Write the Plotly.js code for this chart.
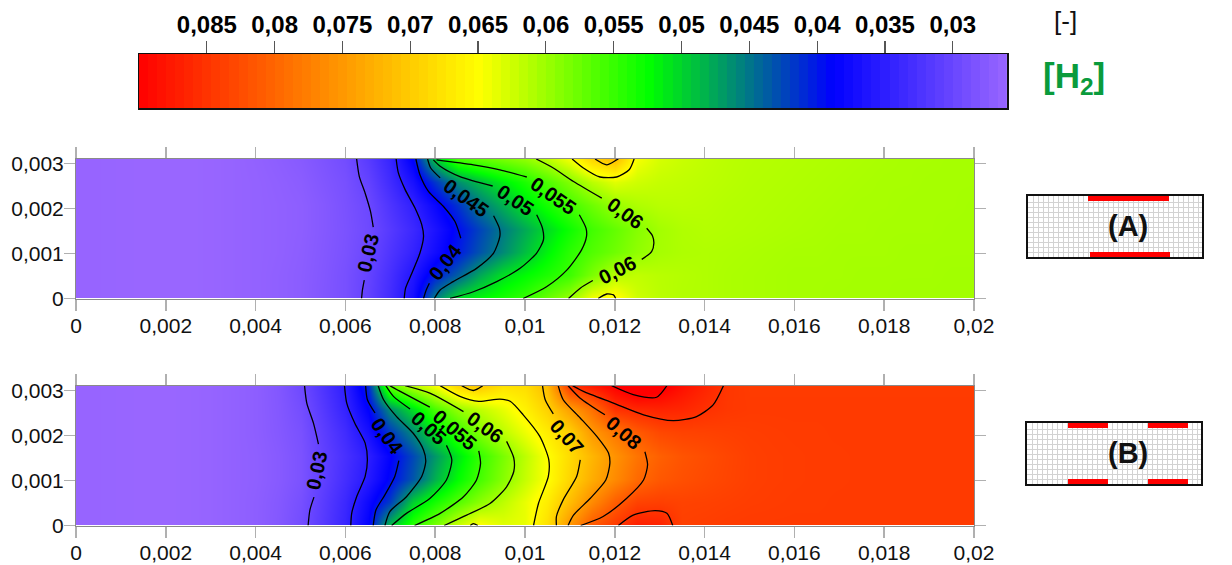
<!DOCTYPE html>
<html><head><meta charset="utf-8">
<script src="https://cdn.plot.ly/plotly-3.0.1.min.js"></script>
<style>html,body{margin:0;padding:0;background:#fff}</style>
</head><body><div id="chart" style="width:1232px;height:565px"></div>
<script>
// x positions of the field columns (m)
var xField = [0,0.0005,0.001,0.0015,0.002,0.0025,0.003,0.0035,0.004,0.0045,0.005,0.0055,0.006,0.0065,0.007,0.0075,0.008,0.0085,0.009,0.0095,0.01,0.0105,0.011,0.0115,0.012,0.0125,0.013,0.0135,0.014,0.0145,0.015,0.0155,0.016,0.0165,0.017,0.0175,0.018,0.0185,0.019,0.0195,0.02];
var yField = [0,0.000517,0.001033,0.00155,0.002067,0.002583,0.0031];

// Panel A field, one row per height
var a0 = [.0262,.0262,.0261,.026,.026,.026,.0261,.0263,.0265,.0268,.0272,.028,.0288,.0306,.0333,.0371,.0456,.0506,.0521,.0535,.055,.0575,.06,.0645,.0658,.0625,.0615,.0611,.061,.0608,.0607,.0606,.0605,.0605,.0604,.0604,.0604,.0603,.0603,.0603,.0603];
var a1 = [.0262,.0262,.0261,.026,.026,.026,.0261,.0263,.0265,.0268,.0272,.0279,.0288,.0304,.0329,.0361,.0404,.0438,.0477,.0506,.0522,.0537,.0553,.0584,.0613,.0618,.0614,.0612,.061,.0608,.0607,.0606,.0605,.0605,.0605,.0604,.0604,.0604,.0604,.0603,.0603];
var a2 = [.0262,.0262,.0261,.026,.026,.026,.0261,.0263,.0265,.0267,.0271,.0278,.0286,.0299,.0322,.0345,.0373,.0402,.0432,.0461,.0489,.0517,.0544,.0563,.0578,.0594,.0605,.0609,.061,.0609,.0608,.0607,.0606,.0606,.0605,.0605,.0605,.0604,.0604,.0604,.0604];
var a3 = [.0262,.0262,.0261,.026,.026,.026,.0261,.0263,.0265,.0267,.027,.0277,.0285,.0296,.0316,.0338,.0365,.0395,.0424,.0453,.0478,.0504,.053,.0555,.0572,.0589,.0604,.061,.0612,.0611,.061,.0609,.0608,.0607,.0606,.0606,.0605,.0605,.0605,.0604,.0604];
var a4 = [.0262,.0262,.0261,.026,.026,.026,.0261,.0263,.0265,.0267,.027,.0277,.0286,.0298,.0323,.0348,.038,.0415,.0453,.0481,.0508,.0533,.0556,.0577,.0598,.0609,.0614,.0615,.0614,.0612,.0611,.061,.0609,.0608,.0607,.0606,.0606,.0605,.0605,.0605,.0604];
var a5 = [.0262,.0262,.0261,.026,.026,.026,.0261,.0263,.0265,.0268,.0272,.028,.0288,.0305,.0334,.0368,.0416,.0463,.0489,.0514,.0536,.0561,.0587,.0615,.0634,.0625,.062,.0618,.0616,.0614,.0612,.0611,.061,.0609,.0608,.0607,.0606,.0606,.0605,.0605,.0605];
var a6 = [.0262,.0262,.0261,.026,.026,.026,.0261,.0263,.0266,.027,.0275,.0283,.0292,.0314,.0342,.0391,.0495,.0558,.057,.0582,.0594,.0615,.0644,.069,.0715,.0645,.0628,.0622,.0618,.0615,.0613,.0612,.0611,.061,.0609,.0608,.0607,.0606,.0606,.0605,.0605];

// Panel B field, one row per height
var b0 = [.0262,.0262,.0261,.026,.026,.0261,.0263,.0266,.027,.0278,.0292,.0316,.0342,.0387,.049,.0546,.0584,.0625,.0652,.0635,.0638,.068,.0755,.0815,.0845,.0872,.0868,.0838,.084,.0842,.0843,.0843,.0843,.0843,.0843,.0843,.0843,.0843,.0843,.0843,.0843];
var b1 = [.0262,.0262,.0261,.026,.026,.0261,.0263,.0266,.027,.0277,.0289,.0313,.0338,.0377,.042,.0498,.0533,.0564,.0592,.0616,.0638,.0667,.0715,.0764,.0808,.0835,.0838,.0835,.0836,.0838,.084,.0841,.0842,.0842,.0843,.0843,.0843,.0843,.0843,.0843,.0843];
var b2 = [.0262,.0262,.0261,.026,.026,.0261,.0263,.0266,.0269,.0275,.0285,.0308,.0331,.0357,.0393,.0433,.0481,.0523,.0557,.0589,.062,.0649,.0691,.073,.0764,.0796,.0814,.0822,.0828,.0833,.0838,.084,.0841,.0842,.0842,.0843,.0843,.0843,.0843,.0843,.0843];
var b3 = [.0262,.0262,.0261,.026,.026,.0261,.0263,.0266,.0269,.0275,.0285,.0307,.0328,.0351,.0386,.0426,.0468,.051,.0549,.0583,.0616,.0649,.0685,.0721,.0756,.0786,.0806,.0818,.0825,.0832,.0838,.084,.0841,.0842,.0842,.0843,.0843,.0843,.0843,.0843,.0843];
var b4 = [.0262,.0262,.0261,.026,.026,.0261,.0263,.0266,.027,.0277,.0287,.0311,.0334,.0369,.0418,.0461,.0512,.0551,.0587,.0616,.0641,.0668,.0696,.075,.0783,.0812,.083,.0835,.0836,.0838,.084,.0841,.0842,.0842,.0843,.0843,.0843,.0843,.0843,.0843,.0843];
var b5 = [.0262,.0262,.0261,.026,.026,.0261,.0263,.0266,.027,.0278,.0291,.0317,.0344,.0388,.0464,.0507,.0559,.0596,.0618,.0638,.0662,.0694,.0745,.0791,.0852,.0862,.0866,.0863,.0853,.0846,.0843,.0843,.0843,.0843,.0843,.0843,.0843,.0843,.0843,.0843,.0843];
var b6 = [.0262,.0262,.0261,.026,.026,.0261,.0263,.0266,.027,.0279,.0296,.0323,.035,.0408,.0572,.0611,.0643,.069,.0703,.0678,.0682,.0715,.0848,.0875,.09,.0925,.091,.0885,.0865,.0847,.0842,.0842,.0842,.0842,.0842,.0842,.0842,.0842,.0842,.0842,.0842];

// Panel A iso-lines (null = break at an inline label)
var A030x=[.00625,.00631,.00644,.00656,.00662,null,.00642,.00638,.00636];
var A030y=[.0031,.00271,.00234,.00193,.001585,null,.00041,.00019,0];
var A035x=[.00713,.00718,.00733,.00755,.0077,.00774,.00766,.00748,.00734,.00731];
var A035y=[.0031,.00279,.00242,.00201,.00164,.00138,.00101,.00056,.00023,0];
var A040x=[.00757,.00766,.00785,.00818,.00844,.00857,null,.00787,.0078,.00774];
var A040y=[.0031,.00275,.00238,.00205,.00171,.00134,null,.00034,.00019,0];
var A045x=[.00783,.0079,.00811,null,.0093,.00943,.00944,.0093,.00892,.0084,.00811,.00798];
var A045y=[.0031,.0029,.00268,null,.00184,.00156,.00138,.00101,.00067,.000375,.00019,0];
var A050x=[.00796,.00811,.00855,.00928,null,.01026,.01039,.01041,.01026,.00989,.00937,.00885,.00833];
var A050y=[.00308,.00294,.00271,.0025,null,.00186,.00156,.0013,.00101,.00067,.000375,.00015,0];
var A055x=[.00803,.00885,.00944,.01004,null,.01121,.01136,.01137,.01126,.01093,.01048,.00996];
var A055y=[.00308,.00297,.00286,.0027,null,.00186,.00156,.00138,.00108,.00063,.00026,0];
var A060x=[.01025,.01063,.01108,.01171,null,.01271,.01284,.01287,.01282,.0126,null,.01151,.01123,.01097];
var A060y=[.0031,.0029,.0026,.00223,null,.00156,.00139,.00123,.00104,.00087,null,.0004,.00023,0];
var A065x=[.01105,.0113,.01167,.01204,.01232,.01243,null,.01163,.01182,.01197,.01202];
var A065y=[.0031,.0029,.0027,.0027,.00286,.0031,null,0,.0001,.00008,0];
var A070x=[.01156,.01182,.01204,.01208];
var A070y=[.0031,.00297,.00308,.0031];

// Panel B iso-lines
var B030x=[.00509,.00514,.00529,.0054,null,.0053,.00521,.00517];
var B030y=[.003107,.00272,.00227,.00181,null,.00063,.000345,0];
var B035x=[.00598,.00603,.00621,.00644,.00649,.00644,.00625,.00614,.00612];
var B035y=[.003107,.00272,.00227,.00183,.00146,.00109,.00064,.00027,0];
var B040x=[.00645,.00649,.00666,null,.00719,.0071,.00688,.00668,.00662];
var B040y=[.003107,.002795,.0025,null,.00144,.00109,.00068,.000345,0];
var B045x=[.00673,.00685,.00714,.00751,.00774,.00779,.0077,.00736,.00699,.00688];
var B045y=[.003107,.002795,.00242,.00205,.00168,.00142,.00109,.00064,.00031,0];
var B050x=[.0069,.00707,.00744,null,.00825,.00837,.00825,.00788,.00736,.00703];
var B050y=[.003107,.00287,.00259,null,.00178,.00146,.00101,.0006,.00027,0];
var B055x=[.00699,.00722,.00788,null,.00897,.00901,.00892,.00863,.00811,.00754];
var B055y=[.003107,.00298,.00263,null,.00166,.00138,.00101,.00064,.00027,0];
var B060x=[.00733,.00788,.00863,null,.00959,.00975,.00975,.00959,.00922,.0087,.0082];
var B060y=[.003107,.00294,.00253,null,.00187,.0015,.0012,.00086,.00049,.00023,0];
var B065x=[.00811,.00855,.00897,.00944,.00967,.00996,.01033,.01053,.01052,.0103,.01019,null,.00878,.00885,.00895];
var B065y=[.003107,.00287,.00276,.00281,.00276,.00246,.00198,.00146,.00109,.00049,0,null,0,.00004,0];
var B070x=[.01039,.01045,.01063,null,.01123,.01115,.01085,.0107,.0107,null,.00859,.00885,.00906];
var B070y=[.003107,.002795,.00248,null,.00146,.00109,.00057,.0002,0,null,.003107,.003,.003107];
var B075x=[.01074,.01085,.01123,.0116,.01186,.01189,.0118,.01145,.01108,.01096];
var B075y=[.003107,.002795,.00239,.00198,.00161,.00138,.00101,.0006,.00023,0];
var B080x=[.01096,.01123,.01178,null,.01267,.01273,.01264,.01226,.01174,.01124];
var B080y=[.003107,.00283,.00246,null,.00164,.00135,.00101,.0006,.0002,0];
var B085x=[.01106,.0113,.01197,.01264,.0133,.01382,.01419,.01442,null,.01208,.01241,.0129,.01316,.01329];
var B085y=[.003107,.00298,.00272,.00246,.00233,.00242,.00268,.003107,null,0,.00023,.00033,.00027,0];
var B090x=[.01193,.01241,.01293,.01316];
var B090y=[.003107,.00291,.00285,.003107];

// Inline labels of the iso-lines: text, position, reading direction (degrees)
var labA  = ['0,03','0,04','0,045','0,05','0,055','0,06','0,06'];
var labAx = [.00651,.00822,.00869,.00978,.01063,.01223,.01206];
var labAy = [.001006,.00082,.00223,.00219,.00227,.0019,.00063];
var labAr = [-77,-52,36,34,35,36,-27];
var labB  = ['0,03','0,04','0,05','0,055','0,06','0,07','0,08'];
var labBx = [.00535,.00692,.00785,.00844,.00911,.01093,.0122];
var labBy = [.00122,.00198,.00216,.00213,.0022,.00196,.00205];
var labBr = [-78,54,42,41,36,48,41];

// Colour bar bands and tick values
var barBands = [.02633,.027,.02767,.02833,.029,.02967,.03033,.031,.03167,.03233,.033,.03367,.03433,.035,.03567,.03633,.037,.03767,.03833,.039,.03967,.04033,.041,.04167,.04233,.043,.04367,.04433,.045,.04567,.04633,.047,.04767,.04833,.049,.04967,.05033,.051,.05167,.05233,.053,.05367,.05433,.055,.05567,.05633,.057,.05767,.05833,.059,.05967,.06033,.061,.06167,.06233,.063,.06367,.06433,.065,.06567,.06633,.067,.06767,.06833,.069,.06967,.07033,.071,.07167,.07233,.073,.07367,.07433,.075,.07567,.07633,.077,.07767,.07833,.079,.07967,.08033,.081,.08167,.08233,.083,.08367,.08433,.085,.08567,.08633,.087,.08767,.08833,.089,.08967];
var barTicks = [.085,.08,.075,.07,.065,.06,.055,.05,.045,.04,.035,.03];
var xTicks = [0,.002,.004,.006,.008,.01,.012,.014,.016,.018,.02];
var yTicks = [0,.001,.002,.003];

// Colour ramp of the field (red at the high end)
var zMin = .026, zMax = .09;
var ramp = [[0,'#9966ff'],[0.2,'#0000ff'],[0.411,'#00ff00'],[0.608,'#ffff00'],[1,'#ff0000']];

// Electrode sketches: bars along the sketch width
var sketchATop=[[60,141]], sketchABottom=[[62,142]];
var sketchBTop=[[41,81],[121,161]], sketchBBottom=[[41,81],[121,161]];

var W=1232,H=565;
var fx=function(p){return p/W}, fy=function(p){return 1-p/H};
var FONT='"Liberation Sans", Arial, sans-serif';

function fieldAxes(sx,sy,top,bottom){
  var common={ticks:'outside',ticklen:11,tickwidth:1.5,tickcolor:'#b0b0b0',mirror:'ticks',showline:true,linecolor:'#8a8a8a',linewidth:1,
    showgrid:false,zeroline:false,tickformat:'.3~f',tickfont:{family:FONT,size:21,color:'#111'}};
  var ax={};
  ax['xaxis'+sx]=Object.assign({domain:[fx(76),fx(974)],range:[0,.02],anchor:'y'+sy,tickvals:xTicks,ticklabelstandoff:-3},common);
  ax['yaxis'+sy]=Object.assign({domain:[fy(bottom),fy(top)],range:[0,.0031],anchor:'x'+sx,tickvals:yTicks,ticklabelstandoff:-4},common);
  return ax;
}
function sketchAxes(sx,sy,l,r,t,b){
  var common={dtick:5,showticklabels:false,ticks:'',showgrid:true,gridcolor:'#d2d2d2',gridwidth:1,zeroline:false,showline:true,mirror:true,linecolor:'#111',linewidth:2};
  var ax={};
  ax['xaxis'+sx]=Object.assign({domain:[fx(l),fx(r)],range:[0,r-l],anchor:'y'+sy},common);
  ax['yaxis'+sy]=Object.assign({domain:[fy(b),fy(t)],range:[0,b-t],anchor:'x'+sx},common);
  return ax;
}
function isoTrace(xs,ys,xa,ya){
  return {type:'scatter',mode:'lines',x:xs,y:ys,xaxis:xa,yaxis:ya,hoverinfo:'skip',connectgaps:false,
    line:{color:'#000',width:1.3,shape:'spline',smoothing:.7}};
}
function bar(xr,y0,y1,xa,ya){return {type:'rect',xref:xa,yref:ya,x0:xr[0],x1:xr[1],y0:y0,y1:y1,fillcolor:'#ff0000',line:{width:0}};}
function labelAnn(txt,xs,ys,rot,xa,ya){
  return txt.map(function(t,i){return {xref:xa,yref:ya,x:xs[i],y:ys[i],text:'<b>'+t+'</b>',textangle:rot[i],showarrow:false,xanchor:'center',yanchor:'middle',
    font:{family:FONT,size:20,color:'#000'}};});
}

var data=[
 {type:'heatmap',x:xField,y:yField,z:[a0,a1,a2,a3,a4,a5,a6],zsmooth:'best',zmin:zMin,zmax:zMax,colorscale:ramp,showscale:false,hoverinfo:'skip',xaxis:'x',yaxis:'y'},
 {type:'heatmap',x:xField,y:yField,z:[b0,b1,b2,b3,b4,b5,b6],zsmooth:'best',zmin:zMin,zmax:zMax,colorscale:ramp,showscale:false,hoverinfo:'skip',xaxis:'x2',yaxis:'y2'},
 {type:'heatmap',x:barBands,y:[0,1],z:[barBands,barBands],zmin:zMin,zmax:zMax,colorscale:ramp,showscale:false,hoverinfo:'skip',xaxis:'x3',yaxis:'y3'},
 {type:'scatter',x:[0],y:[0],mode:'markers',marker:{opacity:0},hoverinfo:'skip',xaxis:'x4',yaxis:'y4'},
 {type:'scatter',x:[0],y:[0],mode:'markers',marker:{opacity:0},hoverinfo:'skip',xaxis:'x5',yaxis:'y5'}
];
[[A030x,A030y],[A035x,A035y],[A040x,A040y],[A045x,A045y],[A050x,A050y],[A055x,A055y],[A060x,A060y],[A065x,A065y],[A070x,A070y]].forEach(function(p){data.push(isoTrace(p[0],p[1],'x','y'));});
[[B030x,B030y],[B035x,B035y],[B040x,B040y],[B045x,B045y],[B050x,B050y],[B055x,B055y],[B060x,B060y],[B065x,B065y],[B070x,B070y],[B075x,B075y],[B080x,B080y],[B085x,B085y],[B090x,B090y]].forEach(function(p){data.push(isoTrace(p[0],p[1],'x2','y2'));});

var shapes=[];
sketchATop.forEach(function(s){shapes.push(bar(s,56,61,'x4','y4'));});
sketchABottom.forEach(function(s){shapes.push(bar(s,0,5,'x4','y4'));});
sketchBTop.forEach(function(s){shapes.push(bar(s,56,61,'x5','y5'));});
sketchBBottom.forEach(function(s){shapes.push(bar(s,0,5,'x5','y5'));});

var annotations=[
  {xref:'paper',yref:'paper',x:fx(1065),y:fy(21),xanchor:'center',yanchor:'middle',text:'[-]',showarrow:false,font:{family:FONT,size:26,color:'#111'}},
  {xref:'paper',yref:'paper',x:fx(1074),y:fy(78),xanchor:'center',yanchor:'middle',text:'<b>[H<sub>2</sub>]</b>',showarrow:false,font:{family:FONT,size:35,color:'#0a9b3c'}},
  {xref:'paper',yref:'paper',x:fx(1128),y:fy(226),xanchor:'center',yanchor:'middle',text:'<b>(A)</b>',showarrow:false,font:{family:FONT,size:29,color:'#111'}},
  {xref:'paper',yref:'paper',x:fx(1128),y:fy(453),xanchor:'center',yanchor:'middle',text:'<b>(B)</b>',showarrow:false,font:{family:FONT,size:29,color:'#111'}}
].concat(labelAnn(labA,labAx,labAy,labAr,'x','y'),labelAnn(labB,labBx,labBy,labBr,'x2','y2'));

var layout=Object.assign({width:W,height:H,margin:{l:0,r:0,t:0,b:0},paper_bgcolor:'#fff',plot_bgcolor:'#fff',showlegend:false,separators:',.',
  shapes:shapes,annotations:annotations,
  xaxis3:{domain:[fx(139),fx(1007)],range:[.09,.026],anchor:'y3',side:'top',tickvals:barTicks,tickformat:'.3~f',ticks:'outside',ticklen:12,tickwidth:1.2,tickcolor:'#555',ticklabelstandoff:-2,showgrid:false,zeroline:false,showline:true,mirror:true,linecolor:'#111',linewidth:1.5,tickfont:{family:FONT,size:24,color:'#000',weight:700}},
  yaxis3:{domain:[fy(108),fy(54)],range:[-.5,1.5],anchor:'x3',showticklabels:false,ticks:'',showgrid:false,zeroline:false,showline:true,mirror:true,linecolor:'#111',linewidth:1.5}
},fieldAxes('','',159,298.5),fieldAxes('2','2',386,525.5),sketchAxes('4','4',1028,1202,196,257),sketchAxes('5','5',1027,1201,423,484));

Plotly.newPlot('chart',data,layout,{displayModeBar:false,staticPlot:true});
</script></body></html>
